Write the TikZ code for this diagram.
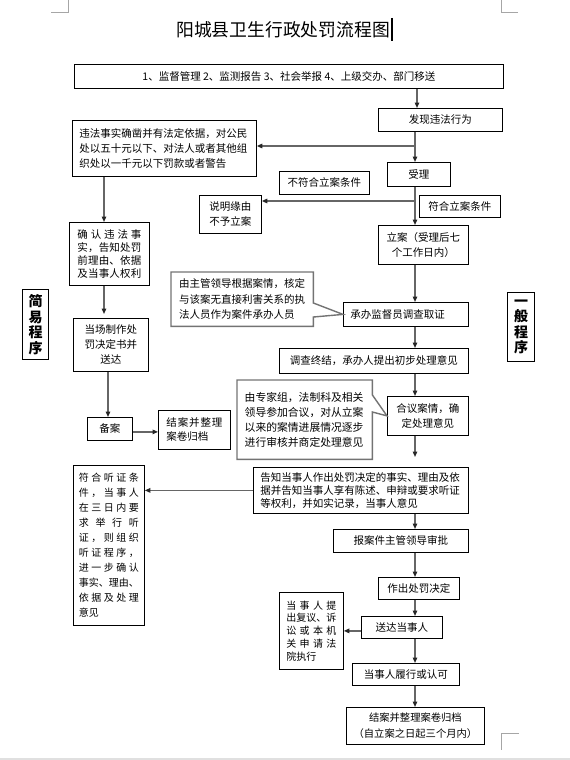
\documentclass[tikz,border=0pt]{standalone}
\usepackage{fontspec}
\setmainfont{Noto Sans CJK SC}
\usetikzlibrary{arrows.meta}
\newcommand\myfs[2]{\fontsize{#1pt}{#2pt}\selectfont}
\def\sprd#1#2{\hbox to #1{\sprdA#2\relax}}
\def\sprdA#1{\ifx#1\relax\else#1\expandafter\sprdB\fi}
\def\sprdB#1{\ifx#1\relax\else\hfill#1\expandafter\sprdB\fi}
\begin{document}
\begin{tikzpicture}[x=1pt,y=-1pt,
  box/.style={draw=black,line width=0.8pt,inner sep=0pt,anchor=north west,align=center,font=\myfs{10.5}{14}},
  bx/.style n args={2}{minimum width=#1,minimum height=#2},
  tag/.style={draw=black,line width=1pt,inner sep=0pt,anchor=north west,align=center,font=\bfseries\myfs{14}{15.5}},
  callout/.style={draw=black!55,line width=1.4pt,line join=miter},
  conn/.style={draw=black!60,line width=1.3pt,-{Triangle[length=5.5pt,width=4.5pt,color=black!85]}},
  cornermark/.style={draw=black!35,line width=0.6pt}]
\useasboundingbox (0,0) rectangle (570,760);
\fill[black!12] (0,757.5) rectangle (570,760);
% page corner marks
\draw[cornermark] (51,12) -- (68,12) -- (68,0);
\draw[cornermark] (518,12) -- (501,12) -- (501,0);
\draw[cornermark] (519,733) -- (501,733) -- (501,750);
% title
\node[font=\myfs{17.8}{20},inner sep=0pt] (title) at (283,30) {阳城县卫生行政处罚流程图};
\draw[line width=1.3pt] (392,18) -- (392,41);
% column coordinates
\coordinate (colR) at (415,0);
\coordinate (colL) at (104,0);
\coordinate (colL2) at (108,0);
% boxes
\node[box,bx={429pt}{24pt}] (src) at (74,64) {1、监督管理 2、监测报告 3、社会举报 4、上级交办、部门移送};
\node[box,bx={124pt}{23pt}] (find) at (378,108) {发现违法行为};
\node[box,bx={63pt}{24pt}] (accept) at (387,162) {受理};
\node[box,bx={90pt}{23pt}] (notok) at (279,171) {不符合立案条件};
\node[box,bx={81pt}{22pt}] (ok) at (419,195) {符合立案条件};
\node[box,bx={62pt}{38pt},font=\myfs{10.5}{15}] (explain) at (199,195) {说明缘由\\不予立案};
\node[box,bx={90pt}{39pt},font=\myfs{10.5}{15}] (file) at (378,225) {立案（受理后七\\个工作日内）};
\node[box,bx={184pt}{56pt},text width=170pt,align=left,font=\myfs{10.5}{14.7}] (viol) at (72,120)
  {违法事实确凿并有法定依据，对公民\\处以五十元以下、对法人或者其他组\\织处以一千元以下罚款或者警告};
\node[box,bx={80pt}{63pt},align=left,font=\myfs{10.5}{13}] (confirm) at (69,222)
  {\sprd{64pt}{确认违法事}\\\sprd{64pt}{实，告知处罚}\\\sprd{64pt}{前理由、依据}\\\sprd{64pt}{及当事人权利}};
\node[box,bx={75pt}{53pt},font=\myfs{10.5}{15}] (spot) at (73,318) {当场制作处\\罚决定书并\\送达};
\node[tag,bx={26pt}{70pt}] (simple) at (22,289) {简\\易\\程\\序};
\node[box,bx={45pt}{23pt}] (beian) at (87,417) {备案};
\node[box,bx={72pt}{39pt},align=left,font=\myfs{10.5}{14}] (close1) at (158,410) {\sprd{56pt}{结案并整理}\\案卷归档};
\node[inner sep=0pt,anchor=north west,bx={142pt}{54pt},text width=126pt,align=left,font=\myfs{10.5}{15.5}] (c1) at (171,272)
  {由主管领导根据案情，核定\\与该案无直接利害关系的执\\法人员作为案件承办人员};
\node[box,bx={125pt}{24pt},text width=111pt,align=left] (probe) at (343,302) {承办监督员调查取证};
\node[tag,bx={27pt}{69pt}] (general) at (507,292) {一\\般\\程\\序};
\node[box,bx={189pt}{25pt}] (concl) at (279,348) {调查终结，承办人提出初步处理意见};
\node[box,bx={81pt}{39pt},font=\myfs{10.5}{15}] (discuss) at (387,396) {合议案情，确\\定处理意见};
\node[inner sep=0pt,anchor=north west,bx={135pt}{79pt},text width=120pt,align=left,font=\myfs{10.8}{15}] (c2) at (237,380)
  {由专家组，法制科及相关\\领导参加合议，对从立案\\以来的案情进展情况逐步\\进行审核并商定处理意见};
\node[box,bx={215pt}{46pt},text width=201pt,align=left,font=\myfs{10.5}{13}] (notify) at (253,467)
  {告知当事人作出处罚决定的事实、理由及依\\据并告知当事人享有陈述、申辩或要求听证\\等权利，并如实记录，当事人意见};
\node[box,bx={71pt}{160pt},align=left,font=\myfs{10}{15}] (hearing) at (73,465)
  {\sprd{60pt}{符合听证条}\\\sprd{60pt}{件，当事人}\\\sprd{60pt}{在三日内要}\\\sprd{60pt}{求举行听}\\\sprd{60pt}{证，则组织}\\\sprd{60pt}{听证程序，}\\\sprd{60pt}{进一步确认}\\\sprd{60pt}{事实、理由、}\\\sprd{60pt}{依据及处理}\\意见};
\node[box,bx={135pt}{23pt}] (report) at (333,529) {报案件主管领导审批};
\node[box,bx={81pt}{22pt}] (decide) at (378,577) {作出处罚决定};
\node[box,bx={81pt}{22pt}] (deliver) at (361,616) {送达当事人};
\node[box,bx={64pt}{77pt},align=left,font=\myfs{10}{12.8}] (appeal) at (279,592)
  {\sprd{50pt}{当事人提}\\\sprd{50pt}{出复议、诉}\\\sprd{50pt}{讼或本机}\\\sprd{50pt}{关申请法}\\院执行};
\node[box,bx={107pt}{22pt}] (perform) at (352,663) {当事人履行或认可};
\node[box,bx={138pt}{37pt},font=\myfs{10.3}{16}] (close2) at (346,707) {结案并整理案卷归档\\（自立案之日起三个月内）};
% callout outlines
\path (c1.north east) ++(0,31) coordinate (c1a) ++(0,14) coordinate (c1b);
\draw[callout] (c1.north west) -- (c1.north east) -- (c1a) -- (probe.west) -- (c1b) -- (c1.south east) -- (c1.south west) -- cycle;
\path (c2.north east) ++(0,15) coordinate (c2a) ++(0,17) coordinate (c2b);
\draw[callout] (c2.north west) -- (c2.north east) -- (c2a) -- (discuss.west) -- (c2b) -- (c2.south east) -- (c2.south west) -- cycle;
% right column connectors
\draw[conn] ([xshift=2pt]src.south -| colR) -- ([xshift=2pt]find.north -| colR);
\draw[conn] (find.south -| colR) -- (accept.north -| colR);
\coordinate (b1) at (415,146);
\draw[conn] (b1) -- (viol.east |- b1);
\draw[conn] (accept.south -| colR) -- (file.north -| colR);
\coordinate (b2) at (415,201);
\draw[conn] (b2) -- (explain.east |- b2);
\draw[conn] (file.south -| colR) -- (probe.north -| colR);
\draw[conn] (probe.south -| colR) -- (concl.north -| colR);
\draw[conn] (concl.south -| colR) -- (discuss.north -| colR);
\coordinate (gapc) at (415,457);
\draw[conn] (discuss.south -| colR) -- (gapc);
\draw[conn] (notify.west) -- (notify.west -| hearing.east);
\draw[conn] (notify.south -| colR) -- (report.north -| colR);
\draw[conn] (report.south -| colR) -- (decide.north -| colR);
\draw[conn] (decide.south -| colR) -- (deliver.north -| colR);
\draw[conn] (deliver.west |- appeal.east) -- (appeal.east);
\draw[conn] (deliver.south -| colR) -- (perform.north -| colR);
\draw[conn] (perform.south -| colR) -- (close2.north -| colR);
% left column connectors
\draw[conn] (viol.south -| colL) -- (confirm.north -| colL);
\draw[conn,shorten >=4pt] (confirm.south -| colL) -- (spot.north -| colL);
\draw[conn] (spot.south -| colL2) -- (beian.north -| colL2);
\draw[conn] ([yshift=-3pt]beian.east) -- ([yshift=-3pt]beian.east -| close1.west);
\end{tikzpicture}
\end{document}
